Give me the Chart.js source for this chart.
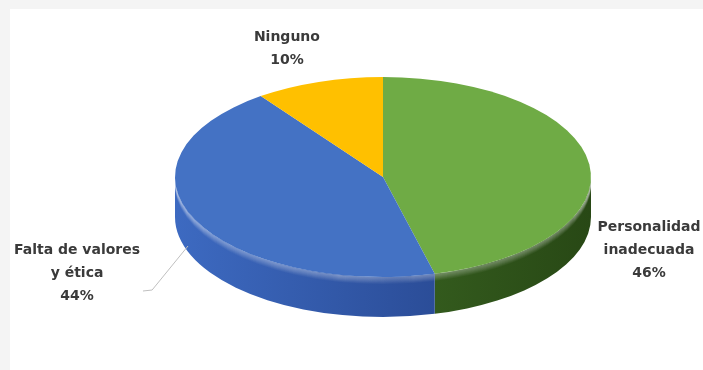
<!DOCTYPE html>
<html>
<head>
<meta charset="utf-8">
<script src="https://cdn.jsdelivr.net/npm/chart.js@4.4.1/dist/chart.umd.min.js"></script>
<style>
  html, body { margin: 0; padding: 0; background: #ffffff; }
  #wrap { position: relative; width: 703px; height: 370px; background: #ffffff; overflow: hidden; }
  .band-top { position: absolute; left: 0; top: 0; width: 703px; height: 9px; background: #f4f4f4; }
  .band-left { position: absolute; left: 0; top: 0; width: 10px; height: 370px; background: #f4f4f4; }
  canvas { position: absolute; left: 0; top: 0; }
</style>
</head>
<body>
<div id="wrap">
  <div class="band-top"></div>
  <div class="band-left"></div>
  <canvas id="chart" width="703" height="370"></canvas>
</div>
<script>
// Slice names (one entry per line of the label), shares in percent
const categories = [['Personalidad', 'inadecuada'], ['Falta de valores', 'y ética'], ['Ninguno']];
const shares = [46, 44, 10];
const topColors = ['#6fab45', '#4472c4', '#ffc000'];
// side wall shading, left-to-right
const sideColors = [['#335a1d', '#284815'], ['#3d6ac1', '#2b4d98'], ['#c79600', '#a67c00']];

// Perspective settings for the tilted pie
const TILT = {
  stretch: 2.08,     // horizontal radius / vertical radius
  depth: 40,         // thickness of the disc, px
  labelAt: [         // label centres, in units of the ellipse radii from the pie centre
    { dx: 1.279, dy: 0.73 },
    { dx: -1.471, dy: 0.96 },
    { dx: -0.462, dy: -1.285 }
  ],
  leader: [          // connector for the left label (same units)
    null,
    [[-0.9375, 0.69], [-1.11, 1.13], [-1.154, 1.14]],
    null
  ]
};

function visibleSpans(s, e) {
  // parts of [s, e] that face the viewer (lower half of the ellipse)
  const out = [];
  for (let k = -1; k <= 1; k++) {
    const lo = Math.max(s, k * 2 * Math.PI), hi = Math.min(e, k * 2 * Math.PI + Math.PI);
    if (hi > lo) out.push([lo, hi]);
  }
  return out;
}

const tiltPlugin = {
  id: 'tilt3d',
  beforeDatasetsDraw(chart) {
    const ctx = chart.ctx;
    const arcs = chart.getDatasetMeta(0).data;
    const { x: cx, y: cy, outerRadius: ry } = arcs[0].getProps(['x', 'y', 'outerRadius'], true);
    const rx = ry * TILT.stretch;
    const d = TILT.depth;

    // side wall
    arcs.forEach((arc, i) => {
      const { startAngle, endAngle } = arc.getProps(['startAngle', 'endAngle'], true);
      visibleSpans(startAngle, endAngle).forEach(([a0, a1]) => {
        const xa = cx + rx * Math.cos(a1), xb = cx + rx * Math.cos(a0);
        const g = ctx.createLinearGradient(Math.min(xa, xb), 0, Math.max(xa, xb), 0);
        g.addColorStop(0, sideColors[i][0]);
        g.addColorStop(1, sideColors[i][1]);
        ctx.save();
        ctx.beginPath();
        ctx.ellipse(cx, cy, rx, ry, 0, a0, a1, false);
        ctx.ellipse(cx, cy + d, rx, ry, 0, a1, a0, true);
        ctx.closePath();
        ctx.fillStyle = g;
        ctx.fill();
        ctx.clip();
        // bevel highlight along the upper rim
        for (let k = 0; k < 7; k++) {
          ctx.beginPath();
          ctx.ellipse(cx, cy + k + 0.5, rx, ry, 0, a0, a1, false);
          ctx.strokeStyle = 'rgba(255,255,255,' + (0.28 * (1 - k / 7)).toFixed(3) + ')';
          ctx.lineWidth = 1.2;
          ctx.stroke();
        }
        ctx.restore();
      });
    });

    // stretch the library's circular slices into the top ellipse
    ctx.save();
    ctx.translate(cx, 0);
    ctx.scale(TILT.stretch, 1);
    ctx.translate(-cx, 0);
  },
  afterDatasetsDraw(chart) {
    chart.ctx.restore();
  },
  afterDraw(chart) {
    const ctx = chart.ctx;
    const arcs = chart.getDatasetMeta(0).data;
    const { x: cx, y: cy, outerRadius: ry } = arcs[0].getProps(['x', 'y', 'outerRadius'], true);
    const rx = ry * TILT.stretch;
    const lineH = 23;
    ctx.save();
    // connectors
    TILT.leader.forEach(pts => {
      if (!pts) return;
      ctx.beginPath();
      pts.forEach(([px, py], j) => {
        const X = cx + px * rx, Y = cy + py * ry;
        if (j === 0) ctx.moveTo(X, Y); else ctx.lineTo(X, Y);
      });
      ctx.strokeStyle = '#bfbfbf';
      ctx.lineWidth = 1;
      ctx.stroke();
    });
    // labels
    ctx.font = 'bold 14px "DejaVu Sans", sans-serif';
    ctx.fillStyle = '#3a3a3a';
    ctx.textAlign = 'center';
    ctx.textBaseline = 'middle';
    chart.data.labels.forEach((lbl, i) => {
      const lines = [...lbl, chart.data.datasets[0].data[i] + '%'];
      const p = TILT.labelAt[i];
      const X = cx + p.dx * rx, Y = cy + p.dy * ry;
      const top = Y - (lines.length - 1) * lineH / 2;
      lines.forEach((t, j) => ctx.fillText(t, X, top + j * lineH));
    });
    ctx.restore();
  }
};

new Chart(document.getElementById('chart'), {
  type: 'pie',
  data: {
    labels: categories,
    datasets: [{
      data: shares,
      backgroundColor: topColors,
      borderWidth: 0,
      clip: false
    }]
  },
  options: {
    responsive: false,
    animation: false,
    layout: { padding: { left: 175, right: 112, top: 77, bottom: 93 } },
    plugins: { legend: { display: false }, tooltip: { enabled: false } }
  },
  plugins: [tiltPlugin]
});
</script>
</body>
</html>
